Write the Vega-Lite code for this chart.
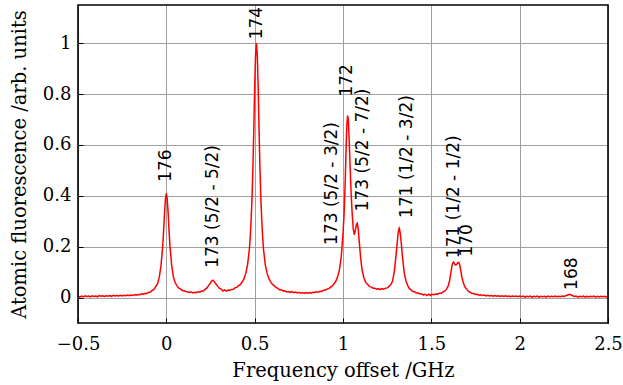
{
  "$schema": "https://vega.github.io/schema/vega-lite/v6.json",
  "autosize": {"type": "none"},
  "padding": {"left": 78, "top": 5, "right": 15, "bottom": 62},
  "width": 530,
  "height": 318,
  "view": {"stroke": null},
  "datasets": {
    "spectrum": [
      {"f": -0.5, "a": 0.005}, {"f": -0.49, "a": 0.002}, {"f": -0.48, "a": 0.006}, {"f": -0.47, "a": 0.003}, {"f": -0.46, "a": 0.007}, {"f": -0.45, "a": 0.004}, {"f": -0.44, "a": 0.006},
      {"f": -0.43, "a": 0.003}, {"f": -0.42, "a": 0.007}, {"f": -0.41, "a": 0.004}, {"f": -0.4, "a": 0.006}, {"f": -0.39, "a": 0.003}, {"f": -0.38, "a": 0.008}, {"f": -0.37, "a": 0.005},
      {"f": -0.36, "a": 0.007}, {"f": -0.35, "a": 0.004}, {"f": -0.34, "a": 0.007}, {"f": -0.33, "a": 0.005}, {"f": -0.32, "a": 0.008}, {"f": -0.31, "a": 0.005}, {"f": -0.3, "a": 0.009},
      {"f": -0.29, "a": 0.006}, {"f": -0.28, "a": 0.008}, {"f": -0.27, "a": 0.006}, {"f": -0.26, "a": 0.009}, {"f": -0.25, "a": 0.006}, {"f": -0.24, "a": 0.009}, {"f": -0.23, "a": 0.007},
      {"f": -0.22, "a": 0.01}, {"f": -0.21, "a": 0.007}, {"f": -0.2, "a": 0.01}, {"f": -0.19, "a": 0.008}, {"f": -0.18, "a": 0.012}, {"f": -0.17, "a": 0.009}, {"f": -0.16, "a": 0.012},
      {"f": -0.15, "a": 0.011}, {"f": -0.14, "a": 0.015}, {"f": -0.13, "a": 0.013}, {"f": -0.12, "a": 0.017}, {"f": -0.11, "a": 0.016},
      {"f": -0.1, "a": 0.02}, {"f": -0.09, "a": 0.022}, {"f": -0.08, "a": 0.028}, {"f": -0.07, "a": 0.032},
      {"f": -0.06, "a": 0.043}, {"f": -0.05, "a": 0.054}, {"f": -0.04, "a": 0.08}, {"f": -0.03, "a": 0.126},
      {"f": -0.02, "a": 0.207}, {"f": -0.015, "a": 0.267}, {"f": -0.01, "a": 0.335}, {"f": -0.005, "a": 0.387},
      {"f": 0, "a": 0.41}, {"f": 0.005, "a": 0.388}, {"f": 0.01, "a": 0.336}, {"f": 0.015, "a": 0.268},
      {"f": 0.02, "a": 0.208}, {"f": 0.03, "a": 0.128}, {"f": 0.04, "a": 0.081}, {"f": 0.05, "a": 0.058},
      {"f": 0.06, "a": 0.047}, {"f": 0.07, "a": 0.037}, {"f": 0.08, "a": 0.034}, {"f": 0.09, "a": 0.028},
      {"f": 0.1, "a": 0.027}, {"f": 0.11, "a": 0.024}, {"f": 0.12, "a": 0.023}, {"f": 0.13, "a": 0.02},
      {"f": 0.14, "a": 0.022}, {"f": 0.15, "a": 0.018}, {"f": 0.16, "a": 0.021}, {"f": 0.17, "a": 0.019},
      {"f": 0.18, "a": 0.023}, {"f": 0.19, "a": 0.021}, {"f": 0.2, "a": 0.026}, {"f": 0.21, "a": 0.026},
      {"f": 0.22, "a": 0.033}, {"f": 0.23, "a": 0.038}, {"f": 0.24, "a": 0.048}, {"f": 0.25, "a": 0.058},
      {"f": 0.255, "a": 0.064}, {"f": 0.263, "a": 0.068}, {"f": 0.27, "a": 0.064}, {"f": 0.28, "a": 0.054},
      {"f": 0.29, "a": 0.045}, {"f": 0.3, "a": 0.036}, {"f": 0.31, "a": 0.033}, {"f": 0.32, "a": 0.026},
      {"f": 0.33, "a": 0.03}, {"f": 0.34, "a": 0.025}, {"f": 0.35, "a": 0.03}, {"f": 0.36, "a": 0.029},
      {"f": 0.37, "a": 0.032}, {"f": 0.38, "a": 0.033}, {"f": 0.39, "a": 0.039}, {"f": 0.4, "a": 0.041},
      {"f": 0.41, "a": 0.048}, {"f": 0.42, "a": 0.052}, {"f": 0.43, "a": 0.062}, {"f": 0.44, "a": 0.074},
      {"f": 0.45, "a": 0.096}, {"f": 0.46, "a": 0.13}, {"f": 0.47, "a": 0.19}, {"f": 0.475, "a": 0.24},
      {"f": 0.48, "a": 0.308}, {"f": 0.485, "a": 0.39}, {"f": 0.49, "a": 0.506}, {"f": 0.495, "a": 0.655},
      {"f": 0.5, "a": 0.823}, {"f": 0.505, "a": 0.951}, {"f": 0.51, "a": 1.0}, {"f": 0.515, "a": 0.951},
      {"f": 0.52, "a": 0.823}, {"f": 0.525, "a": 0.655}, {"f": 0.53, "a": 0.506}, {"f": 0.535, "a": 0.39},
      {"f": 0.54, "a": 0.308}, {"f": 0.545, "a": 0.24}, {"f": 0.55, "a": 0.19}, {"f": 0.56, "a": 0.129},
      {"f": 0.57, "a": 0.096}, {"f": 0.58, "a": 0.075}, {"f": 0.59, "a": 0.063}, {"f": 0.6, "a": 0.052},
      {"f": 0.61, "a": 0.047}, {"f": 0.62, "a": 0.04}, {"f": 0.63, "a": 0.037}, {"f": 0.64, "a": 0.031}, {"f": 0.65, "a": 0.031}, {"f": 0.66, "a": 0.026},
      {"f": 0.67, "a": 0.027}, {"f": 0.68, "a": 0.022}, {"f": 0.69, "a": 0.024}, {"f": 0.7, "a": 0.02}, {"f": 0.71, "a": 0.023}, {"f": 0.72, "a": 0.019},
      {"f": 0.73, "a": 0.022}, {"f": 0.74, "a": 0.018}, {"f": 0.75, "a": 0.021}, {"f": 0.76, "a": 0.017}, {"f": 0.77, "a": 0.02}, {"f": 0.78, "a": 0.016},
      {"f": 0.79, "a": 0.02}, {"f": 0.8, "a": 0.017}, {"f": 0.81, "a": 0.02}, {"f": 0.82, "a": 0.017}, {"f": 0.83, "a": 0.021}, {"f": 0.84, "a": 0.02},
      {"f": 0.85, "a": 0.023}, {"f": 0.86, "a": 0.021}, {"f": 0.87, "a": 0.025}, {"f": 0.88, "a": 0.024}, {"f": 0.89, "a": 0.029}, {"f": 0.9, "a": 0.029},
      {"f": 0.91, "a": 0.034}, {"f": 0.92, "a": 0.035}, {"f": 0.93, "a": 0.041}, {"f": 0.94, "a": 0.046}, {"f": 0.95, "a": 0.055}, {"f": 0.96, "a": 0.065}, {"f": 0.97, "a": 0.083},
      {"f": 0.98, "a": 0.11}, {"f": 0.99, "a": 0.16}, {"f": 1.0, "a": 0.25}, {"f": 1.007, "a": 0.34},
      {"f": 1.013, "a": 0.47}, {"f": 1.018, "a": 0.6}, {"f": 1.022, "a": 0.68}, {"f": 1.026, "a": 0.715},
      {"f": 1.03, "a": 0.7}, {"f": 1.035, "a": 0.62}, {"f": 1.04, "a": 0.52}, {"f": 1.046, "a": 0.41},
      {"f": 1.052, "a": 0.33}, {"f": 1.058, "a": 0.27}, {"f": 1.064, "a": 0.247}, {"f": 1.07, "a": 0.265},
      {"f": 1.076, "a": 0.288}, {"f": 1.081, "a": 0.292}, {"f": 1.086, "a": 0.27}, {"f": 1.092, "a": 0.22},
      {"f": 1.1, "a": 0.155}, {"f": 1.108, "a": 0.11}, {"f": 1.118, "a": 0.078}, {"f": 1.13, "a": 0.058},
      {"f": 1.14, "a": 0.051}, {"f": 1.15, "a": 0.043}, {"f": 1.16, "a": 0.042}, {"f": 1.17, "a": 0.037}, {"f": 1.18, "a": 0.037}, {"f": 1.19, "a": 0.033},
      {"f": 1.2, "a": 0.035}, {"f": 1.21, "a": 0.031}, {"f": 1.22, "a": 0.035}, {"f": 1.23, "a": 0.033}, {"f": 1.24, "a": 0.037},
      {"f": 1.25, "a": 0.038}, {"f": 1.26, "a": 0.044}, {"f": 1.27, "a": 0.05}, {"f": 1.28, "a": 0.064},
      {"f": 1.29, "a": 0.1}, {"f": 1.3, "a": 0.165}, {"f": 1.305, "a": 0.2}, {"f": 1.31, "a": 0.24},
      {"f": 1.314, "a": 0.263}, {"f": 1.318, "a": 0.272}, {"f": 1.322, "a": 0.263}, {"f": 1.326, "a": 0.24},
      {"f": 1.331, "a": 0.205}, {"f": 1.336, "a": 0.165}, {"f": 1.346, "a": 0.1}, {"f": 1.356, "a": 0.066},
      {"f": 1.366, "a": 0.048}, {"f": 1.375, "a": 0.036}, {"f": 1.385, "a": 0.03}, {"f": 1.395, "a": 0.024}, {"f": 1.405, "a": 0.023},
      {"f": 1.415, "a": 0.018}, {"f": 1.425, "a": 0.018}, {"f": 1.435, "a": 0.014}, {"f": 1.445, "a": 0.014}, {"f": 1.455, "a": 0.01}, {"f": 1.465, "a": 0.013},
      {"f": 1.475, "a": 0.008}, {"f": 1.485, "a": 0.013}, {"f": 1.495, "a": 0.009}, {"f": 1.505, "a": 0.013}, {"f": 1.515, "a": 0.011},
      {"f": 1.525, "a": 0.014}, {"f": 1.535, "a": 0.013}, {"f": 1.545, "a": 0.017}, {"f": 1.555, "a": 0.017}, {"f": 1.565, "a": 0.021},
      {"f": 1.575, "a": 0.025}, {"f": 1.585, "a": 0.032}, {"f": 1.595, "a": 0.045}, {"f": 1.603, "a": 0.065},
      {"f": 1.61, "a": 0.095}, {"f": 1.616, "a": 0.122}, {"f": 1.621, "a": 0.136}, {"f": 1.626, "a": 0.139},
      {"f": 1.632, "a": 0.132}, {"f": 1.638, "a": 0.128}, {"f": 1.644, "a": 0.131}, {"f": 1.65, "a": 0.137},
      {"f": 1.656, "a": 0.138}, {"f": 1.661, "a": 0.128}, {"f": 1.667, "a": 0.105}, {"f": 1.673, "a": 0.08},
      {"f": 1.68, "a": 0.06}, {"f": 1.69, "a": 0.042}, {"f": 1.7, "a": 0.033}, {"f": 1.71, "a": 0.024}, {"f": 1.72, "a": 0.021},
      {"f": 1.73, "a": 0.016}, {"f": 1.74, "a": 0.016}, {"f": 1.75, "a": 0.012}, {"f": 1.76, "a": 0.013}, {"f": 1.77, "a": 0.009}, {"f": 1.78, "a": 0.011},
      {"f": 1.79, "a": 0.008}, {"f": 1.8, "a": 0.01}, {"f": 1.81, "a": 0.006}, {"f": 1.82, "a": 0.009}, {"f": 1.83, "a": 0.006}, {"f": 1.84, "a": 0.008},
      {"f": 1.85, "a": 0.005}, {"f": 1.86, "a": 0.008}, {"f": 1.87, "a": 0.005}, {"f": 1.88, "a": 0.007}, {"f": 1.89, "a": 0.004}, {"f": 1.9, "a": 0.007},
      {"f": 1.91, "a": 0.004}, {"f": 1.92, "a": 0.007}, {"f": 1.93, "a": 0.004}, {"f": 1.94, "a": 0.006}, {"f": 1.95, "a": 0.003}, {"f": 1.96, "a": 0.006},
      {"f": 1.97, "a": 0.004}, {"f": 1.98, "a": 0.006}, {"f": 1.99, "a": 0.003}, {"f": 2.0, "a": 0.006}, {"f": 2.01, "a": 0.003}, {"f": 2.02, "a": 0.006},
      {"f": 2.03, "a": 0.002}, {"f": 2.04, "a": 0.005}, {"f": 2.05, "a": 0.003}, {"f": 2.06, "a": 0.006}, {"f": 2.07, "a": 0.002}, {"f": 2.08, "a": 0.005},
      {"f": 2.09, "a": 0.003}, {"f": 2.1, "a": 0.006}, {"f": 2.11, "a": 0.002}, {"f": 2.12, "a": 0.005}, {"f": 2.13, "a": 0.003}, {"f": 2.14, "a": 0.005},
      {"f": 2.15, "a": 0.002}, {"f": 2.16, "a": 0.006}, {"f": 2.17, "a": 0.003}, {"f": 2.18, "a": 0.005}, {"f": 2.19, "a": 0.003}, {"f": 2.2, "a": 0.006},
      {"f": 2.21, "a": 0.003}, {"f": 2.22, "a": 0.005}, {"f": 2.23, "a": 0.003}, {"f": 2.24, "a": 0.006}, {"f": 2.25, "a": 0.004}, {"f": 2.26, "a": 0.007},
      {"f": 2.27, "a": 0.009}, {"f": 2.28, "a": 0.013}, {"f": 2.29, "a": 0.011}, {"f": 2.3, "a": 0.007}, {"f": 2.31, "a": 0.004}, {"f": 2.32, "a": 0.006},
      {"f": 2.33, "a": 0.002}, {"f": 2.34, "a": 0.005}, {"f": 2.35, "a": 0.003}, {"f": 2.36, "a": 0.006}, {"f": 2.37, "a": 0.002}, {"f": 2.38, "a": 0.005},
      {"f": 2.39, "a": 0.002}, {"f": 2.4, "a": 0.005}, {"f": 2.41, "a": 0.003}, {"f": 2.42, "a": 0.006}, {"f": 2.43, "a": 0.002}, {"f": 2.44, "a": 0.005},
      {"f": 2.45, "a": 0.002}, {"f": 2.46, "a": 0.005}, {"f": 2.47, "a": 0.003}, {"f": 2.48, "a": 0.005}, {"f": 2.49, "a": 0.002}, {"f": 2.5, "a": 0.004}
    ],
    "labels": [
      {"x": 0.0, "y": 0.455, "label": "176"},
      {"x": 0.266, "y": 0.117, "label": "173 (5/2 - 5/2)"},
      {"x": 0.511, "y": 1.015, "label": "174"},
      {"x": 0.936, "y": 0.207, "label": "173 (5/2 - 3/2)"},
      {"x": 1.021, "y": 0.79, "label": "172"},
      {"x": 1.115, "y": 0.339, "label": "173 (5/2 - 7/2)"},
      {"x": 1.36, "y": 0.313, "label": "171 (1/2 - 3/2)"},
      {"x": 1.628, "y": 0.155, "label": "171 (1/2 - 1/2)"},
      {"x": 1.703, "y": 0.161, "label": "170"},
      {"x": 2.294, "y": 0.03, "label": "168"}
    ],
    "frame": [
      {"x0": -0.5, "x1": 2.5, "y0": -0.1, "y1": 1.15}
    ]
  },
  "layer": [
    {
      "data": {"name": "spectrum"},
      "mark": {"type": "line", "color": "#ff0000", "strokeWidth": 1.5, "clip": true},
      "encoding": {
        "x": {
          "field": "f", "type": "quantitative",
          "scale": {"domain": [-0.5, 2.5], "nice": false, "zero": false},
          "axis": {
            "title": "Frequency offset /GHz", "values": [-0.5, 0, 0.5, 1, 1.5, 2, 2.5], "format": "~g",
            "labelFlush": false, "labelPadding": 17, "titlePadding": 8,
            "labelFont": "DejaVu Serif", "labelFontSize": 18, "labelColor": "#000000",
            "titleFont": "DejaVu Serif", "titleFontSize": 19.5, "titleFontWeight": "normal", "titleColor": "#000000",
            "grid": true, "gridColor": "#a0a0a0", "gridWidth": 1, "gridOpacity": 1,
            "domain": false, "ticks": true, "tickColor": "#000000", "tickSize": -5, "tickWidth": 1
          }
        },
        "y": {
          "field": "a", "type": "quantitative",
          "scale": {"domain": [-0.1, 1.15], "nice": false, "zero": false},
          "axis": {
            "title": "Atomic fluorescence /arb. units", "values": [0, 0.2, 0.4, 0.6, 0.8, 1], "format": "~g",
            "labelFlush": false, "labelPadding": 12, "titlePadding": 13,
            "labelFont": "DejaVu Serif", "labelFontSize": 18, "labelColor": "#000000",
            "titleFont": "DejaVu Serif", "titleFontSize": 19.5, "titleFontWeight": "normal", "titleColor": "#000000",
            "grid": true, "gridColor": "#a0a0a0", "gridWidth": 1, "gridOpacity": 1,
            "domain": false, "ticks": true, "tickColor": "#000000", "tickSize": -5, "tickWidth": 1
          }
        }
      }
    },
    {
      "data": {"name": "labels"},
      "mark": {"type": "text", "angle": 270, "align": "left", "baseline": "middle", "font": "DejaVu Sans", "fontSize": 17, "color": "#000000"},
      "encoding": {
        "x": {"field": "x", "type": "quantitative"},
        "y": {"field": "y", "type": "quantitative"},
        "text": {"field": "label"}
      }
    },
    {
      "data": {"name": "frame"},
      "mark": {"type": "rect", "filled": false, "stroke": "#000000", "strokeWidth": 1.6},
      "encoding": {
        "x": {"field": "x0", "type": "quantitative"},
        "x2": {"field": "x1"},
        "y": {"field": "y0", "type": "quantitative"},
        "y2": {"field": "y1"}
      }
    }
  ]
}
